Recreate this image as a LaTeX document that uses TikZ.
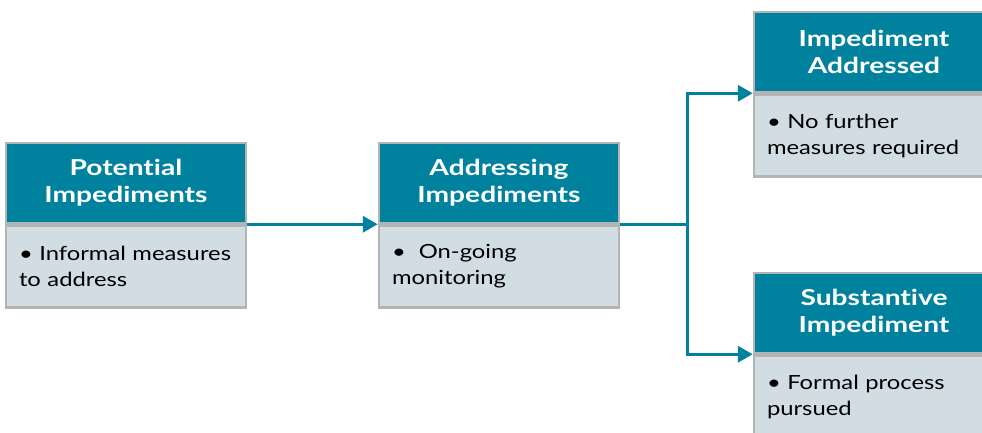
\documentclass[tikz,border=0pt]{standalone}
\usepackage{fontspec}
\setmainfont{Lato}[FakeStretch=1.28, Ligatures=NoCommon]
\newfontfamily\cuerpo{Lato}[FakeStretch=1.22, Ligatures=NoCommon]
\usetikzlibrary{arrows.meta,positioning}
\definecolor{petrol}{HTML}{00829E}
\definecolor{niebla}{HTML}{D1DDE3}
\definecolor{borde}{HTML}{B4B4B4}
\hyphenpenalty=10000

\begin{document}
\begin{tikzpicture}[x=1pt, y=-1pt,
  hd/.style={
    draw=borde, fill=petrol, line width=2.5pt, text=white,
    minimum width=240pt, minimum height=80pt, align=center,
    font=\fontsize{22}{27}\selectfont\bfseries, inner sep=0pt
  },
  bd/.style={
    draw=borde, fill=niebla, line width=2.5pt, text=black,
    minimum width=240pt, minimum height=82pt, text width=214pt,
    align=left, font=\cuerpo\fontsize{19.5}{26}\selectfont, inner sep=0pt
  },
  arr/.style={-{Triangle[length=15pt, width=16pt]}, line width=3.5pt, color=petrol}
]
  \useasboundingbox (0,0) rectangle (982,432);
  \clip (0,0) rectangle (982,432);
  \node[hd] (hdA) at (126,183) {Potential\\Impediments};
  \node[bd, below=0pt of hdA] (bdA) {\textbullet\ Informal measures\\to address};
  \node[hd] (hdB) at (499,183) {Addressing\\Impediments};
  \node[bd, below=0pt of hdB] (bdB) {\textbullet\ \ On-going\\monitoring};
  \node[hd] (hdC) at (874,52) {Impediment\\Addressed};
  \node[bd, below=0pt of hdC] (bdC) {\textbullet\ No further\\measures required};
  \node[hd] (hdD) at (874,313) {Substantive\\Impediment};
  \node[bd, below=0pt of hdD] (bdD) {\textbullet\ Formal process\\pursued};
  \draw[arr] (hdA.south east) -- (hdB.south west);
  \draw[line width=3.5pt, color=petrol] (hdB.south east) -- ++(67,0) coordinate (split);
  \draw[arr] (split) |- (hdC.south west);
  \draw[arr] (split) |- (hdD.south west);
\end{tikzpicture}
\end{document}
